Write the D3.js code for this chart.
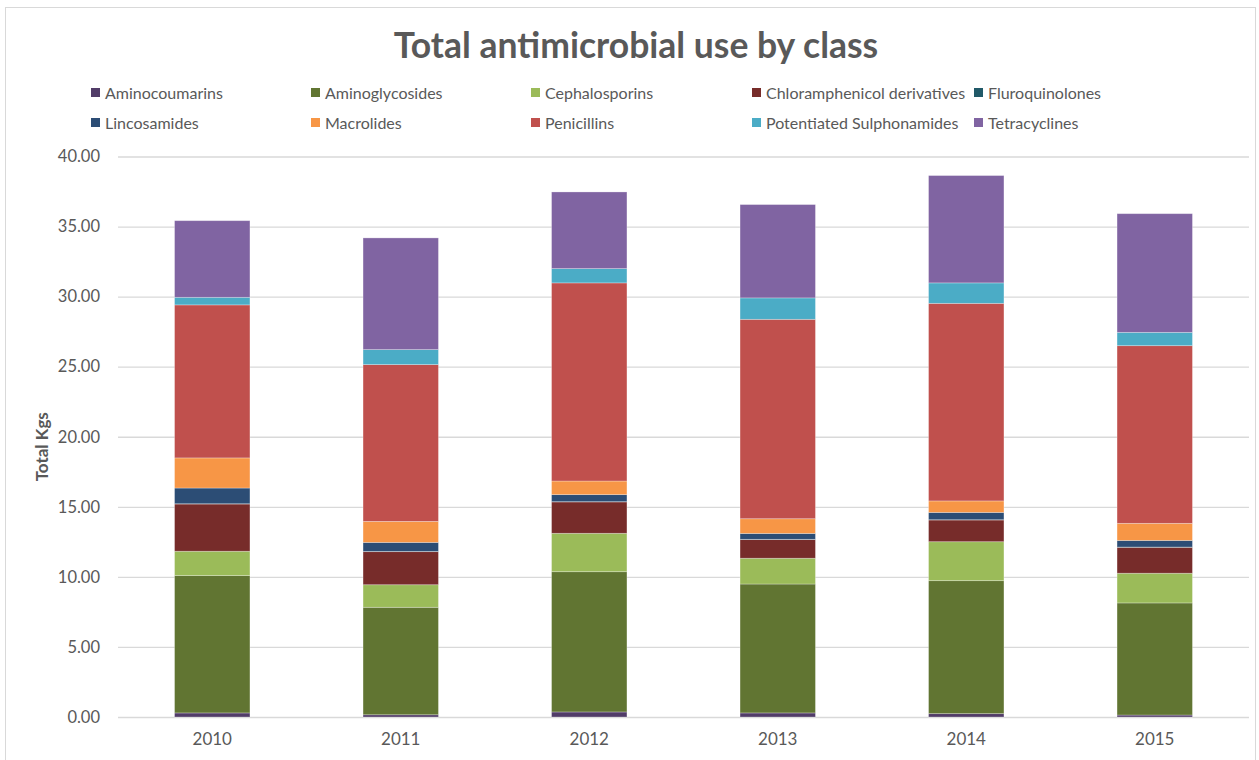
<!DOCTYPE html>
<html>
<head>
<meta charset="utf-8">
<script src="https://cdn.jsdelivr.net/npm/d3@7"></script>
<style>
  body { margin: 0; background: #fff; }
  svg { display: block; font-family: Lato, "Open Sans", sans-serif; }
</style>
</head>
<body>
<div id="chart"></div>
<script>
// Years on the x axis
const years = ["2010", "2011", "2012", "2013", "2014", "2015"];

// Kgs per class and year
const aminocoumarins = [0.29, 0.16, 0.36, 0.29, 0.24, 0.14];
const aminoglycosides = [9.80, 7.67, 10.01, 9.20, 9.49, 8.00];
const cephalosporins = [1.74, 1.61, 2.74, 1.84, 2.78, 2.12];
const chloramphenicol = [3.37, 2.36, 2.24, 1.33, 1.55, 1.85];
const fluroquinolones = [0.02, 0.02, 0.02, 0.02, 0.02, 0.02];
const lincosamides = [1.12, 0.64, 0.50, 0.42, 0.52, 0.47];
const macrolides = [2.15, 1.50, 0.97, 1.05, 0.82, 1.22];
const penicillins = [10.92, 11.19, 14.14, 14.23, 14.10, 12.68];
const potentiatedSulph = [0.54, 1.07, 1.02, 1.53, 1.46, 0.95];
const tetracyclines = [5.47, 7.97, 5.47, 6.66, 7.66, 8.47];

const classNames = [
    "Aminocoumarins", "Aminoglycosides", "Cephalosporins", "Chloramphenicol derivatives",
    "Fluroquinolones", "Lincosamides", "Macrolides", "Penicillins",
    "Potentiated Sulphonamides", "Tetracyclines"
];
const classValues = [
    aminocoumarins, aminoglycosides, cephalosporins, chloramphenicol, fluroquinolones,
    lincosamides, macrolides, penicillins, potentiatedSulph, tetracyclines
];
const classColors = [
    "#513c68", "#617532", "#9bbb59", "#772c2a", "#215968",
    "#2c4d75", "#f79646", "#c0504d", "#4bacc6", "#8064a2"
];
const yTicks = [0, 5, 10, 15, 20, 25, 30, 35, 40];

const width = 1259, height = 760;
const plot = { left: 118, right: 1249, top: 156.5, bottom: 717 };
const textColor = "#595959";

// build one row per year for d3.stack
const rows = years.map((y, i) => {
    const row = { year: y };
    classNames.forEach((c, k) => { row[c] = classValues[k][i]; });
    return row;
});

const series = d3.stack().keys(classNames)(rows);

const x = d3.scaleBand()
    .domain(years)
    .range([plot.left, plot.right])
    .paddingInner(0.6)
    .paddingOuter(0.3);

const y = d3.scaleLinear()
    .domain([0, 40])
    .range([plot.bottom, plot.top]);

const color = d3.scaleOrdinal().domain(classNames).range(classColors);

const svg = d3.select("#chart").append("svg")
    .attr("width", width)
    .attr("height", height);

// outer chart frame
svg.append("rect")
    .attr("x", 5.5).attr("y", 7.5)
    .attr("width", 1250).attr("height", 770)
    .attr("fill", "#fff")
    .attr("stroke", "#d9d9d9");

// title
svg.append("text")
    .attr("x", 636).attr("y", 58)
    .attr("text-anchor", "middle")
    .attr("font-size", 35.5)
    .attr("font-weight", "bold")
    .attr("fill", textColor)
    .text("Total antimicrobial use by class");

// gridlines + y labels
const yAxis = d3.axisLeft(y)
    .tickValues(yTicks)
    .tickSize(-(plot.right - plot.left))
    .tickPadding(18)
    .tickFormat(d3.format(".2f"));

svg.append("g")
    .attr("transform", `translate(${plot.left},0)`)
    .call(yAxis)
    .call(g => g.select(".domain").remove())
    .call(g => g.selectAll(".tick line").attr("stroke", "#d9d9d9").attr("stroke-width", 1.3))
    .call(g => g.selectAll(".tick text")
        .attr("fill", textColor)
        .attr("font-size", 16.5)
        .attr("font-family", "Lato, sans-serif"));

// y axis title
svg.append("text")
    .attr("transform", `translate(48,${(plot.top + plot.bottom) / 2 + 10}) rotate(-90)`)
    .attr("text-anchor", "middle")
    .attr("font-size", 17)
    .attr("font-weight", "bold")
    .attr("fill", textColor)
    .text("Total Kgs");

// stacked bars
svg.append("g")
    .selectAll("g")
    .data(series)
    .join("g")
    .attr("fill", d => color(d.key))
    .selectAll("rect")
    .data(d => d)
    .join("rect")
    .attr("x", d => x(d.data.year))
    .attr("width", x.bandwidth())
    .attr("y", d => y(d[1]))
    .attr("height", d => y(d[0]) - y(d[1]))
    .attr("stroke", "#fff")
    .attr("stroke-opacity", 0.35)
    .attr("stroke-width", 0.8);

// x labels
const xAxis = d3.axisBottom(x).tickSize(0).tickPadding(16);
svg.append("g")
    .attr("transform", `translate(0,${plot.bottom})`)
    .call(xAxis)
    .call(g => g.select(".domain").remove())
    .call(g => g.selectAll(".tick text")
        .attr("fill", textColor)
        .attr("font-size", 17)
        .attr("font-family", "Lato, sans-serif"));

// legend, two rows of five
const legendX = [91, 311, 531, 752, 974];
const legendY = [93, 123];
const legend = svg.append("g")
    .selectAll("g")
    .data(classNames)
    .join("g")
    .attr("transform", (d, i) => `translate(${legendX[i % 5]},${legendY[Math.floor(i / 5)]})`);

legend.append("rect")
    .attr("x", 0).attr("y", -5)
    .attr("width", 9).attr("height", 9)
    .attr("fill", d => color(d));

legend.append("text")
    .attr("x", 14).attr("y", 0)
    .attr("dy", "0.35em")
    .attr("font-size", 16)
    .attr("fill", textColor)
    .text(d => d);
</script>
</body>
</html>
